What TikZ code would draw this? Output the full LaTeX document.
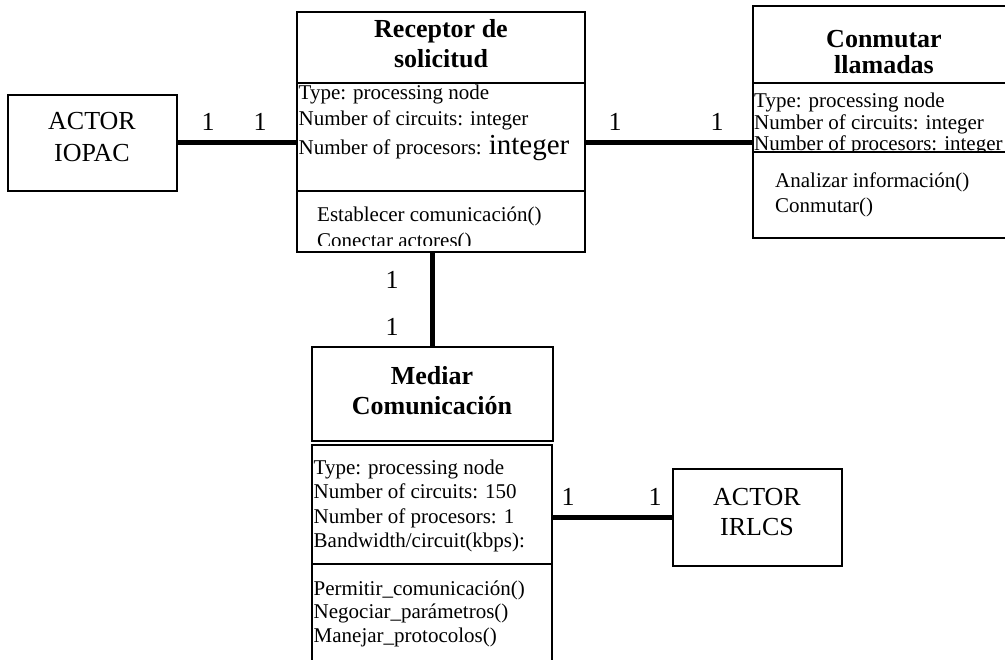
\documentclass[tikz,border=0pt]{standalone}
\usepackage{fontspec}
\setmainfont{Liberation Serif}
\begin{document}
\begin{tikzpicture}[x=1pt,y=-1pt,
  box/.style={draw, line width=2pt, rectangle, inner sep=0pt, outer sep=0pt, anchor=north west},
  link/.style={line width=5pt},
  ttl/.style={font=\fontsize{26}{30}\selectfont\bfseries, inner sep=0pt, anchor=base},
  attr/.style={font=\fontsize{21}{24}\selectfont, inner sep=0pt, anchor=base west},
  lbl/.style={font=\fontsize{26}{30}\selectfont, inner sep=0pt, anchor=base}]

\path[use as bounding box] (0,0) rectangle (1005,660);
\clip (0,0) rectangle (1005,660);

% ---- Receptor de solicitud ----
\node[box, minimum width=288, minimum height=71]  (recT) at (297,12)  {};
\node[box, minimum width=288, minimum height=108] (recA) at (297,83)  {};
\node[box, minimum width=288, minimum height=61]  (recM) at (297,191) {};
\node[ttl] (recT1) at (441,38) {Receptor de};
\node[ttl] (recT2) at (441,68) {solicitud};
\node[attr] (recA1) at (298.5,100) {Type: processing node};
\node[attr] (recA2) at (298.5,126) {Number of circuits: integer};
\node[attr] (recA3) at (298.5,155) {Number of procesors: {\fontsize{29}{30}\selectfont integer}};
\begin{scope}
  \clip (297,191) rectangle (585,246);
  \node[attr] (recM1) at (317,222) {Establecer comunicación()};
  \node[attr] (recM2) at (317,248) {Conectar actores()};
\end{scope}

% ---- Conmutar llamadas ----
\node[box, minimum width=262, minimum height=77] (conT) at (753,6)   {};
\node[box, minimum width=262, minimum height=69] (conA) at (753,83)  {};
\node[box, minimum width=262, minimum height=86] (conM) at (753,152) {};
\node[ttl] (conT1) at (884,48) {Conmutar};
\node[ttl] (conT2) at (884,74) {llamadas};
\begin{scope}
  \clip (753,83) rectangle (1005,151);
  \node[attr] (conA1) at (754,108) {Type: processing node};
  \node[attr] (conA2) at (754,130) {Number of circuits: integer};
  \node[attr] (conA3) at (754,151) {Number of procesors: integer};
\end{scope}
\node[attr] (conM1) at (775,188) {Analizar información()};
\node[attr] (conM2) at (775,213) {Conmutar()};

% ---- Mediar Comunicación ----
\node[box, minimum width=241, minimum height=94]  (medT) at (312,347) {};
\node[box, minimum width=240, minimum height=119] (medA) at (312,445) {};
\node[box, minimum width=240, minimum height=110] (medM) at (312,564) {};
\node[ttl] (medT1) at (432,385) {Mediar};
\node[ttl] (medT2) at (432,415) {Comunicación};
\node[attr] (medA1) at (313.5,475) {Type: processing node};
\node[attr] (medA2) at (313.5,498) {Number of circuits: 150};
\node[attr] (medA3) at (313.5,523) {Number of procesors: 1};
\node[attr] (medA4) at (313.5,547) {Bandwidth/circuit(kbps):};
\node[attr] (medM1) at (313.5,595) {Permitir\_comunicación()};
\node[attr] (medM2) at (313.5,618) {Negociar\_parámetros()};
\node[attr] (medM3) at (313.5,642) {Manejar\_protocolos()};

% ---- Actors ----
\node[box, minimum width=169, minimum height=96] (iopac) at (8,95)   {};
\node[lbl] (iopac1) at (92,130) {ACTOR};
\node[lbl] (iopac2) at (92,162) {IOPAC};
\node[box, minimum width=169, minimum height=97] (irlcs) at (673,469) {};
\node[lbl] (irlcs1) at (757,505) {ACTOR};
\node[lbl] (irlcs2) at (757,535) {IRLCS};

% ---- Associations ----
\draw[link] (iopac.east) -- (iopac.east -| recA.west);
\draw[link] (recA.east |- iopac.east) -- (conA.west |- iopac.east);
\draw[link] (medT.north) -- (medT.north |- recM.south);
\draw[link] (irlcs.west) -- (irlcs.west -| medA.east);

% ---- Multiplicities ----
\node[lbl] (m1) at (208,131) {1};
\node[lbl] (m2) at (260,131) {1};
\node[lbl] (m3) at (615,131) {1};
\node[lbl] (m4) at (717,131) {1};
\node[lbl] (m5) at (392,289) {1};
\node[lbl] (m6) at (392,336) {1};
\node[lbl] (m7) at (568,505) {1};
\node[lbl] (m8) at (655,505) {1};
\end{tikzpicture}
\end{document}
